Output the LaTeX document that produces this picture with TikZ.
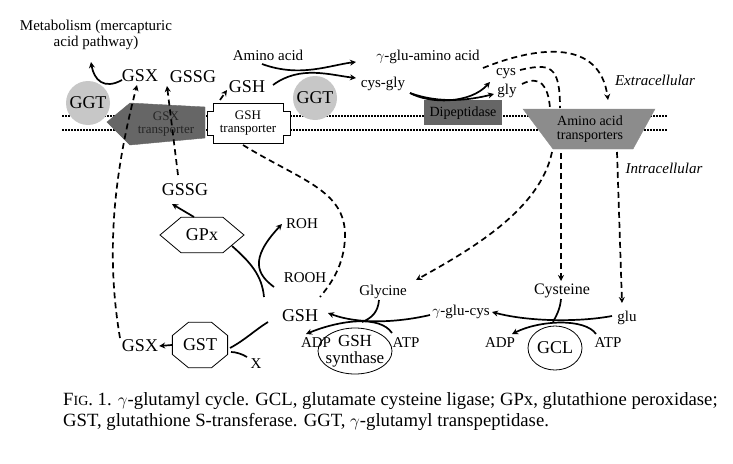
\documentclass[tikz,border=0pt]{standalone}
\usepackage{fontspec}
\setmainfont{Liberation Serif}
\usetikzlibrary{shapes.geometric,arrows.meta}
\begin{document}
\begin{tikzpicture}[x=1pt,y=-1pt,
  lbl/.style={inner sep=1pt,font=\fontsize{15}{16}\selectfont},
  big/.style={inner sep=1pt,font=\fontsize{18}{19}\selectfont},
  small/.style={inner sep=1pt,font=\fontsize{13}{13}\selectfont,align=center},
  rx/.style={line width=1.7pt,-{Stealth[length=6pt,width=6pt]}},
  rl/.style={line width=1.7pt},
  dsh/.style={line width=1.7pt,dash pattern=on 6pt off 4pt},
  dsha/.style={dsh,-{Stealth[length=6pt,width=6pt]}},
  memb/.style={line width=1.7pt,dash pattern=on 1.5pt off 1.5pt},
  circ/.style={circle,fill=black!22,minimum size=44pt,inner sep=0pt,font=\fontsize{18}{19}\selectfont}]
\useasboundingbox (0,0) rectangle (733,463);
% membrane
\draw[memb] (62,116) -- (668,116);
\draw[memb] (62,130) -- (668,130);
% enzymes on membrane
\node[circ] (ggt1) at (88,103) {GGT};
\node[circ] (ggt2) at (315,98) {GGT};
\filldraw[fill=black!60,draw=black!60] (107,122) -- (130,103) -- (205,107) -- (205,138) -- (130,145) -- cycle;
\node[small,text=black!85] (gsxt) at (166,124) {GSX\\transporter};
\filldraw[fill=white,draw=black,line width=0.8pt] (213,103) -- (283,103) -- (283,111) -- (290,111) -- (290,135) -- (283,135) -- (283,143) -- (213,143) -- (213,135) -- (207,135) -- (207,111) -- (213,111) -- cycle;
\node[small] (gsht) at (248,123) {GSH\\transporter};
\fill[black!60] (424,100) rectangle (502,125);
\node[small,font=\fontsize{14}{14}\selectfont] (dip) at (463,113) {Dipeptidase};
\filldraw[fill=black!45,draw=black!45] (523,109) -- (655,109) -- (633,149) -- (553,149) -- cycle;
\node[small,font=\fontsize{14}{14}\selectfont] (aat) at (590,129) {Amino acid\\transporters};
% top labels
\node[lbl,align=center] (met) at (96,35) {Metabolism (mercapturic\\acid pathway)};
\node[big] (gsx1) at (140,76) {GSX};
\node[big] (gssg1) at (193,77) {GSSG};
\node[big] (gsh1) at (247,87) {GSH};
\node[lbl] (aa) at (268,55) {Amino acid};
\node[lbl] (gaa) at (428,57) {$\gamma$-glu-amino acid};
\node[lbl] (cg) at (383,84) {cys-gly};
\node[lbl] (cys) at (506,74) {cys};
\node[lbl] (gly) at (507,91) {gly};
\node[lbl,font=\itshape\fontsize{15}{16}\selectfont] (ext) at (655,80) {Extracellular};
\node[lbl,font=\itshape\fontsize{15}{16}\selectfont] (intr) at (664,168) {Intracellular};
% top arrows
\draw[rx] (122,80) .. controls (104,90) and (94,80) .. (91,62);
\draw[dsha] (220,100) -- (227,90);
\draw[rx] (262,64) .. controls (300,78) and (330,65) .. (356,62);
\draw[rx] (273,85) .. controls (300,65) and (330,75) .. (356,78);
\draw[rx] (410,93) .. controls (430,104) and (470,104) .. (490,82);
\draw[rx] (410,93) .. controls (440,104) and (470,100) .. (494,94);
% long dashed paths
\draw[dsha] (483,68) .. controls (540,45) and (600,40) .. (608,100);
\draw[dsh] (520,70) .. controls (550,63) and (560,65) .. (560,108);
\draw[dsh] (522,84) .. controls (540,75) and (548,85) .. (550,108);
\draw[dsha] (617,152) -- (622,303);
\draw[dsha] (561,153) -- (561,281);
\draw[dsha] (552,152) .. controls (540,210) and (470,250) .. (416,280);
\draw[dsha] (120,338) .. controls (105,250) and (115,170) .. (137,85);
\draw[dsha] (178,175) -- (167,86);
\draw[dsh] (243,145) .. controls (300,180) and (345,190) .. (345,235) .. controls (345,265) and (330,285) .. (320,297);
% bottom labels
\node[big] (gssg2) at (185,190) {GSSG};
\node[regular polygon,regular polygon sides=6,draw,line width=0.8pt,minimum width=48pt,xscale=1.75,yscale=0.85] (gpxs) at (202,235) {};
\node[big] (gpx) at (202,235) {GPx};
\node[lbl] (roh) at (302,224) {ROH};
\node[lbl] (rooh) at (305,278) {ROOH};
\node[big] (gsh2) at (300,316) {GSH};
\node[regular polygon,regular polygon sides=8,draw,line width=0.8pt,minimum size=52pt,xscale=1.15,yscale=0.95] (gst) at (200,345) {};
\node[big] (gstl) at (200,345) {GST};
\node[big] (gsx2) at (140,346) {GSX};
\node[lbl] (x) at (256,364) {X};
\draw[rx] (gpxs.north) ++(-8,0) -- (172,204);
\draw[rl] (264,297) .. controls (262,275) and (250,262) .. (232,246);
\draw[rx] (274,287) .. controls (258,275) and (248,260) .. (282,224);
\draw[rx] (gst.west) -- (gsx2.east);
\draw[rl] (268,322) .. controls (255,330) and (245,340) .. (230,348);
\draw[rl] (247,357) .. controls (242,354) and (236,352) .. (231,352);
% GSH synthase
\draw[line width=0.8pt] (355,351) ellipse (37pt and 23pt);
\node[big,align=center,font=\fontsize{17}{17}\selectfont] (gshs) at (355,351) {GSH\\synthase};
\node[lbl] (adp1) at (316,343) {ADP};
\node[lbl] (atp1) at (406,343) {ATP};
\node[lbl] (glyc) at (383,292) {Glycine};
\node[lbl] (ggc) at (461,312) {$\gamma$-glu-cys};
\draw[rx] (430,315) .. controls (400,322) and (360,325) .. (328,313);
\draw[rx] (392,333) .. controls (380,315) and (340,320) .. (306,334);
\draw[rl] (379,300) .. controls (378,312) and (372,318) .. (362,322);
% GCL
\draw[line width=0.8pt] (555,348) ellipse (27pt and 22pt);
\node[big] (gcl) at (555,348) {GCL};
\node[lbl] (adp2) at (500,343) {ADP};
\node[lbl] (atp2) at (608,343) {ATP};
\node[lbl,font=\fontsize{16}{16}\selectfont] (cyst) at (562,291) {Cysteine};
\node[lbl] (glul) at (627,318) {glu};
\draw[rx] (612,316) .. controls (580,322) and (530,322) .. (492,312);
\draw[rx] (596,334) .. controls (585,318) and (540,320) .. (512,334);
\draw[rl] (561,299) .. controls (560,310) and (556,316) .. (553,322);
% caption
\node[anchor=west,inner sep=0pt,font=\fontsize{18.7}{20}\selectfont] (cap1) at (63,401) {F{\fontsize{14}{14}\selectfont IG}. 1. $\gamma$-glutamyl cycle. GCL, glutamate cysteine ligase; GPx, glutathione peroxidase;};
\node[anchor=west,inner sep=0pt,font=\fontsize{18.7}{20}\selectfont] (cap2) at (63,422) {GST, glutathione S-transferase. GGT, $\gamma$-glutamyl transpeptidase.};
\end{tikzpicture}
\end{document}
